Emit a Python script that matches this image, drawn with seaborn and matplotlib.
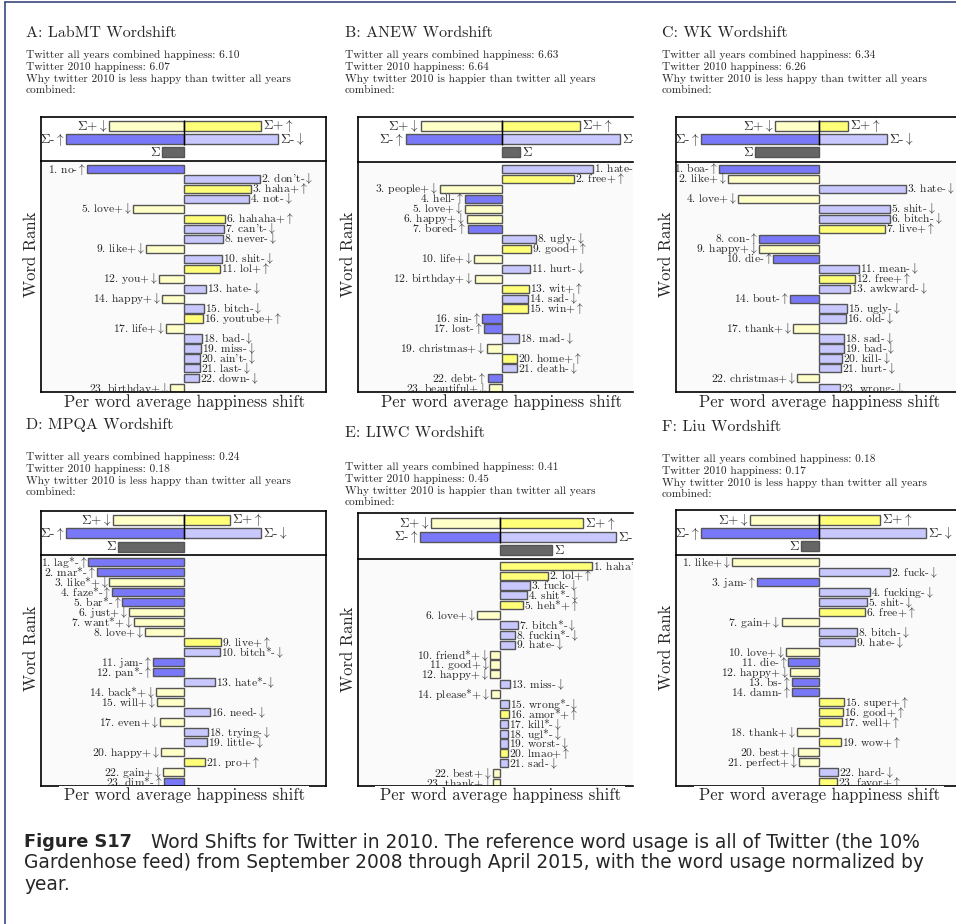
import pandas as pd
import seaborn as sns
import matplotlib.pyplot as plt
from matplotlib.patches import Rectangle
from matplotlib.lines import Line2D

# ---------------- data ----------------
titles = ["A: LabMT Wordshift", "B: ANEW Wordshift", "C: WK Wordshift",
          "D: MPQA Wordshift", "E: LIWC Wordshift", "F: Liu Wordshift"]
all_years = ["6.10", "6.63", "6.34", "0.24", "0.41", "0.18"]
year_2010 = ["6.07", "6.64", "6.26", "0.18", "0.45", "0.17"]
verdicts = ["is less happy than", "is happier than", "is less happy than",
            "is less happy than", "is happier than", "is less happy than"]

summary_labels = ["Σ+↓", "Σ+↑", "Σ-↑", "Σ-↓", "Σ"]
summary_rows = [0, 0, 1, 1, 2]

words_a = ["no", "don't", "haha", "not", "love", "hahaha", "can't", "never", "like", "shit", "lol", "you",
           "hate", "happy", "bitch", "youtube", "life", "bad", "miss", "ain't", "last", "down", "birthday"]
kinds_a = ["-↑", "-↓", "+↑", "-↓", "+↓", "+↑", "-↓", "-↓", "+↓", "-↓", "+↑", "+↓",
           "-↓", "+↓", "-↓", "+↑", "+↓", "-↓", "-↓", "-↓", "-↓", "-↓", "+↓"]
vals_a = [-0.97, 0.76, 0.67, 0.65, -0.51, 0.41, 0.40, 0.39, -0.38, 0.38, 0.36, -0.25,
          0.22, -0.22, 0.20, 0.19, -0.185, 0.18, 0.17, 0.16, 0.155, 0.15, -0.14]
summary_a = [-0.75, 0.77, -1.18, 0.94, -0.22]

words_b = ["hate", "free", "people", "hell", "love", "happy", "bored", "ugly", "good", "life", "hurt",
           "birthday", "wit", "sad", "win", "sin", "lost", "mad", "christmas", "home", "death", "debt", "beautiful"]
kinds_b = ["-↓", "+↑", "+↓", "-↑", "+↓", "+↓", "-↑", "-↓", "+↑", "+↓", "-↓",
           "+↓", "+↑", "-↓", "+↑", "-↑", "-↑", "-↓", "+↓", "+↑", "-↓", "-↑", "+↓"]
vals_b = [0.91, 0.72, -0.62, -0.37, -0.37, -0.35, -0.34, 0.34, 0.29, -0.28, 0.28,
          -0.27, 0.27, 0.26, 0.26, -0.20, -0.18, 0.17, -0.15, 0.15, 0.15, -0.14, -0.13]
summary_b = [-0.81, 0.78, -0.96, 1.18, 0.18]

words_c = ["boa", "like", "hate", "love", "shit", "bitch", "live", "con", "happy", "die", "mean", "free",
           "awkward", "bout", "ugly", "old", "thank", "sad", "bad", "kill", "hurt", "christmas", "wrong"]
kinds_c = ["-↑", "+↓", "-↓", "+↓", "-↓", "-↓", "+↑", "-↑", "+↓", "-↑", "-↓", "+↑",
           "-↓", "-↑", "-↓", "-↓", "+↓", "-↓", "-↓", "-↓", "-↓", "+↓", "-↓"]
vals_c = [-1.00, -0.91, 0.87, -0.81, 0.71, 0.71, 0.66, -0.60, -0.60, -0.46, 0.40, 0.36,
          0.31, -0.29, 0.28, 0.27, -0.26, 0.25, 0.25, 0.23, 0.22, -0.22, 0.21]
summary_c = [-0.44, 0.29, -1.18, 0.68, -0.64]

words_d = ["lag*", "mar*", "like*", "faze*", "bar*", "just", "want*", "love", "live", "bitch*", "jam", "pan*",
           "hate*", "back*", "will", "need", "even", "trying", "little", "happy", "pro", "gain", "dim*"]
kinds_d = ["-↑", "-↑", "+↓", "-↑", "-↑", "+↓", "+↓", "+↓", "+↑", "-↓", "-↑", "-↑",
           "-↓", "+↓", "+↓", "-↓", "+↓", "-↓", "-↓", "+↓", "+↑", "+↓", "-↑"]
vals_d = [-0.96, -0.87, -0.75, -0.72, -0.62, -0.55, -0.50, -0.39, 0.37, 0.36, -0.315, -0.31,
          0.31, -0.28, -0.27, 0.26, -0.245, 0.24, 0.23, -0.23, 0.21, -0.21, -0.20]
summary_d = [-0.71, 0.46, -1.18, 0.77, -0.66]

words_e = ["haha*", "lol", "fuck", "shit*", "heh*", "love", "bitch*", "fuckin*", "hate", "friend*", "good",
           "happy", "miss", "please*", "wrong*", "amor*", "kill*", "ugl*", "worst", "lmao", "sad", "best", "thank"]
kinds_e = ["+↑", "+↑", "-↓", "-↓", "+↑", "+↓", "-↓", "-↓", "-↓", "+↓", "+↓",
           "+↓", "-↓", "+↓", "-↓", "+↑", "-↓", "-↓", "-↓", "+↑", "-↓", "+↓", "+↓"]
vals_e = [0.92, 0.48, 0.30, 0.27, 0.23, -0.23, 0.18, 0.15, 0.145, -0.105, -0.10,
          -0.10, 0.093, -0.09, 0.088, 0.084, 0.08, 0.078, 0.077, 0.076, 0.074, -0.073, -0.072]
summary_e = [-0.69, 0.83, -0.80, 1.16, 0.52]

words_f = ["like", "fuck", "jam", "fucking", "shit", "free", "gain", "bitch", "hate", "love", "die", "happy",
           "bs", "damn", "super", "good", "well", "thank", "wow", "best", "perfect", "hard", "favor"]
kinds_f = ["+↓", "-↓", "-↑", "-↓", "-↓", "+↑", "+↓", "-↓", "-↓", "+↓", "-↑", "+↓",
           "-↑", "-↑", "+↑", "+↑", "+↑", "+↓", "+↑", "+↓", "+↓", "-↓", "+↑"]
vals_f = [-0.87, 0.71, -0.62, 0.51, 0.48, 0.46, -0.378, 0.375, 0.36, -0.33, -0.31, -0.29,
          -0.275, -0.27, 0.25, 0.24, 0.23, -0.22, 0.215, -0.21, -0.20, 0.19, 0.18]
summary_f = [-0.69, 0.61, -1.18, 1.07, -0.18]

panel_words = [words_a, words_b, words_c, words_d, words_e, words_f]
panel_kinds = [kinds_a, kinds_b, kinds_c, kinds_d, kinds_e, kinds_f]
panel_vals = [vals_a, vals_b, vals_c, vals_d, vals_e, vals_f]
panel_summary = [summary_a, summary_b, summary_c, summary_d, summary_e, summary_f]

# ---------------- layout (pixels of the 956x924 page) ----------------
W, H = 956, 924
layout = [
    dict(left=40.7, zero=184.3, right=326, top=117, sep=161, bottom=392, row1=169, step=9.97, srow=126, sstep=13.15, rspine=True),
    dict(left=357.7, zero=501.7, right=633, top=117, sep=161.5, bottom=392, row1=169, step=9.97, srow=126, sstep=13.15, rspine=False),
    dict(left=675.7, zero=819.3, right=963, top=117, sep=161.5, bottom=392, row1=169, step=9.97, srow=126, sstep=13.15, rspine=True),
    dict(left=40.7, zero=184.3, right=326, top=511, sep=555, bottom=785.5, row1=562.3, step=10.0, srow=520, sstep=13.3, rspine=True),
    dict(left=357.7, zero=500.3, right=633, top=513.3, sep=559.3, bottom=785.5, row1=565.7, step=9.88, srow=523.3, sstep=13.35, rspine=False),
    dict(left=675.7, zero=819.3, right=963, top=510, sep=555, bottom=785.5, row1=562.3, step=10.0, srow=520, sstep=13.1, rspine=True),
]
text_pos = [(26, 33, 55), (345, 33, 55), (662, 33, 55), (26, 425, 457), (345, 433, 467), (662, 427, 459)]

colors = {"-↑": "#7878f8", "-↓": "#c8c8ff", "+↑": "#ffff78", "+↓": "#ffffc8", "Σ": "#666666"}
arrows = {"↑": r"$\uparrow$", "↓": r"$\downarrow$"}
summary_kinds = ["+↓", "+↑", "-↑", "-↓", "Σ"]


def math_label(s):
    out = ""
    for ch in s:
        if ch in arrows:
            out += arrows[ch]
        elif ch == "Σ":
            out += r"$\Sigma$"
        else:
            out += ch
    return out


sns.set_style("white")
plt.rcParams["font.family"] = ["cmr10", "DejaVu Serif"]
plt.rcParams["mathtext.fontset"] = "cm"
plt.rcParams["axes.unicode_minus"] = False

fig = plt.figure(figsize=(W / 100, H / 100), dpi=100)


def rect(x0, y0, x1, y1):
    return [x0 / W, 1 - y1 / H, (x1 - x0) / W, (y1 - y0) / H]


for p in range(6):
    g = layout[p]
    xl = ((g["left"] - g["zero"]) / 100, (g["right"] - g["zero"]) / 100)

    # summary box
    sax = fig.add_axes(rect(g["left"], g["top"], g["right"], g["sep"]))
    sdf = pd.DataFrame({"val": panel_summary[p], "row": summary_rows, "kind": summary_kinds})
    sns.barplot(data=sdf, x="val", y="row", hue="kind", palette=colors, orient="h",
                dodge=False, width=0.76, saturation=1, edgecolor="#555555", linewidth=1.0,
                legend=False, ax=sax)
    sax.vlines(0, -0.45, 1.45, color="black", lw=1.0, zorder=5)
    for v, r, lab in zip(panel_summary[p], summary_rows, summary_labels):
        off = 0.02 if v >= 0 else -0.02
        sax.text(v + off, r, math_label(lab), ha="left" if v >= 0 else "right", va="center",
                 fontsize=9.5, clip_on=True)
    sax.set_xlim(*xl)
    sax.set_ylim((g["sep"] - g["srow"]) / g["sstep"], -(g["srow"] - g["top"]) / g["sstep"])
    sax.set_facecolor("white")

    # main ranked bars
    ax = fig.add_axes(rect(g["left"], g["sep"], g["right"], g["bottom"]))
    ax.set_facecolor("#fafafa")
    mdf = pd.DataFrame({"val": panel_vals[p], "row": list(range(23)), "kind": panel_kinds[p]})
    sns.barplot(data=mdf, x="val", y="row", hue="kind", palette=colors, orient="h",
                dodge=False, width=0.82, saturation=1, edgecolor="#555555", linewidth=1.0,
                legend=False, ax=ax)
    for i, (w, k, v) in enumerate(zip(panel_words[p], panel_kinds[p], panel_vals[p])):
        lab = f"{i + 1}. {w}{k[0]}" + arrows[k[1]]
        off = 0.01 if v >= 0 else -0.01
        ax.text(v + off, i, lab, ha="left" if v >= 0 else "right", va="center",
                fontsize=8.3, clip_on=True)
    ax.set_xlim(*xl)
    ax.set_ylim((g["bottom"] - g["row1"]) / g["step"], -(g["row1"] - g["sep"]) / g["step"])

    for a in (sax, ax):
        a.set_xticks([])
        a.set_yticks([])
        a.set_xlabel("")
        a.set_ylabel("")
        for s in a.spines.values():
            s.set_color("black")
            s.set_linewidth(1.2)
        a.spines["right"].set_visible(g["rspine"])
    sax.spines["bottom"].set_visible(False)

    # axis titles
    fig.text((g["left"] - 9) / W, 1 - (g["top"] + g["bottom"]) / 2 / H, "Word Rank",
             rotation=90, ha="center", va="center", fontsize=12)
    fig.add_artist(Rectangle(((g["zero"] - 125) / W, 1 - (g["bottom"] + 20) / H), 250 / W, 19.5 / H,
                             transform=fig.transFigure, facecolor="white", edgecolor="none", zorder=4))
    fig.text(g["zero"] / W, 1 - (g["bottom"] + 10) / H, "Per word average happiness shift",
             ha="center", va="center", fontsize=12, zorder=5)

    # header text
    tx, ty, ly = text_pos[p]
    fig.text(tx / W, 1 - ty / H, titles[p], ha="left", va="center", fontsize=11.5)
    lines = [f"Twitter all years combined happiness: {all_years[p]}",
             f"Twitter 2010 happiness: {year_2010[p]}",
             f"Why twitter 2010 {verdicts[p]} twitter all years",
             "combined:"]
    for j, line in enumerate(lines):
        fig.text(tx / W, 1 - (ly + 11.8 * j) / H, line, ha="left", va="center", fontsize=8.2)

# page frame
fig.add_artist(Line2D([5 / W, 1], [1 - 2 / H, 1 - 2 / H], color="#3b4a80", lw=1.2))
fig.add_artist(Line2D([5 / W, 5 / W], [0, 1 - 2 / H], color="#3b4a80", lw=1.2))

# caption
fig.text(24 / W, 1 - 842 / H, "Figure S17", family="DejaVu Sans", weight="bold",
         fontsize=12.8, ha="left", va="center")
cap = dict(family="DejaVu Sans", fontsize=13.4, ha="left", va="center")
fig.text(151 / W, 1 - 842 / H,
         "Word Shifts for Twitter in 2010. The reference word usage is all of Twitter (the 10%", **cap)
fig.text(24 / W, 1 - 863 / H,
         "Gardenhose feed) from September 2008 through April 2015, with the word usage normalized by", **cap)
fig.text(24 / W, 1 - 884 / H, "year.", **cap)

fig.savefig("out.png", dpi=100)
